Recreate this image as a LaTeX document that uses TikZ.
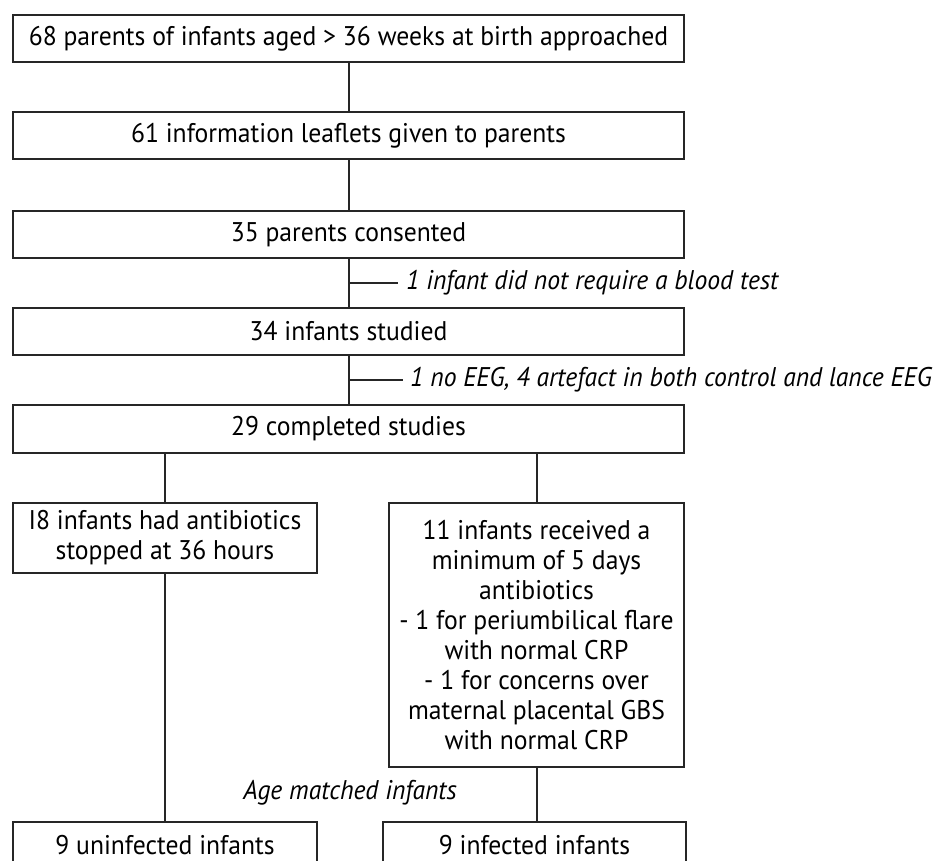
\documentclass[tikz,border=0pt]{standalone}
\usepackage{fontspec}
\setmainfont[FakeStretch=0.95]{PT Sans}
\begin{document}
\begin{tikzpicture}[x=1pt,y=-1pt,
  box/.style={draw=black!85, line width=2pt, inner sep=0pt, align=center,
    font=\fontsize{27}{30}\selectfont},
  wide/.style={box, minimum width=671pt, minimum height=47pt},
  conn/.style={draw=black!85, line width=2pt},
  side/.style={anchor=west, inner sep=0pt, font=\fontsize{27}{30}\selectfont\itshape}]
\useasboundingbox (0,0) rectangle (939,861);
\clip (0,0) rectangle (939,861);
\node[wide] (b1) at (348.5,38.5) {68 parents of infants aged > 36 weeks at birth approached};
\node[wide] (b2) at (348.5,135.5) {61 information leaflets given to parents};
\node[wide] (b3) at (348.5,234.5) {35 parents consented};
\node[wide] (b4) at (348.5,331.5) {34 infants studied};
\node[wide, minimum height=48pt] (b5) at (348.5,429) {29 completed studies};
\node[box, minimum width=304pt, minimum height=70pt] (b6) at (165,538) {I8 infants had antibiotics\\stopped at 36 hours};
\node[box, minimum width=295pt, minimum height=264pt] (b7) at (536.5,635) {11 infants received a\\minimum of 5 days\\antibiotics\\- 1 for periumbilical flare\\with normal CRP\\- 1 for concerns over\\maternal placental GBS\\with normal CRP};
\node[box, minimum width=304pt, minimum height=47pt] (b8) at (165,845) {9 uninfected infants};
\node[box, minimum width=303pt, minimum height=47pt] (b9) at (534.5,845) {9 infected infants};
\node[side] (l1) at (406,283) {1 infant did not require a blood test};
\node[side] (l2) at (410,380) {1 no EEG, 4 artefact in both control and lance EEG};
\node[inner sep=0pt, font=\fontsize{27}{30}\selectfont\itshape] (l3) at (350,793) {Age matched infants};
\coordinate (j1) at (348.5,283);
\coordinate (e1) at (398,283);
\coordinate (j2) at (348.5,380);
\coordinate (e2) at (403,380);
\draw[conn] (b1) -- (b2);
\draw[conn] (b2) -- (b3);
\draw[conn] (b3) -- (b4);
\draw[conn] (b4) -- (b5);
\draw[conn] (j1) -- (e1);
\draw[conn] (j2) -- (e2);
\draw[conn] (b5.south -| b6.north) -- (b6.north);
\draw[conn] (b5.south -| b7.north) -- (b7.north);
\draw[conn] (b6.south) -- (b8.north -| b6.south);
\draw[conn] (b7.south) -- (b9.north -| b7.south);
\end{tikzpicture}
\end{document}
